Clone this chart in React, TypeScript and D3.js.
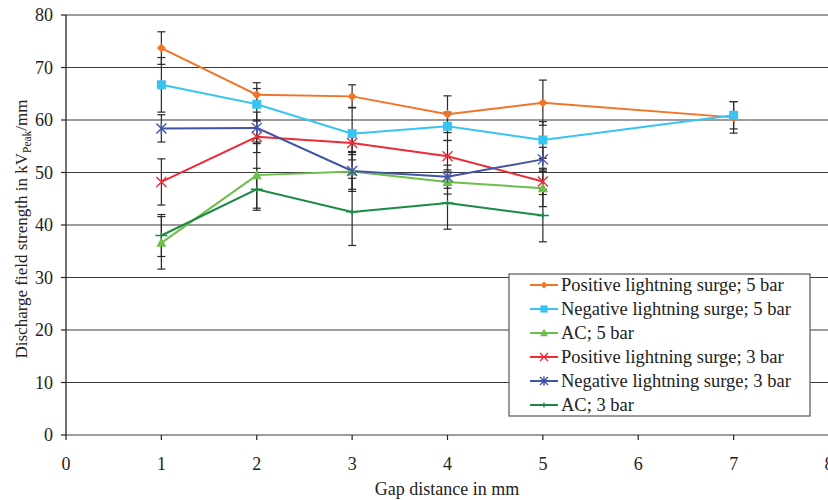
import React from "react";
import * as d3 from "d3";

const W = 828;
const H = 500;

const seriesNames = [
  "Positive lightning surge; 5 bar",
  "Negative lightning surge; 5 bar",
  "AC; 5 bar",
  "Positive lightning surge; 3 bar",
  "Negative lightning surge; 3 bar",
  "AC; 3 bar",
];
const seriesColors = ["#F37327", "#38C4F2", "#6CBF4B", "#EE2B34", "#4154A5", "#1B8A43"];
const seriesMarkers = ["diamond", "square", "triangle", "x", "star", "plus"];

const gapsLong = [1, 2, 3, 4, 5, 7];
const gapsShort = [1, 2, 3, 4, 5];

const posLS5 = [73.7, 64.8, 64.5, 61.1, 63.3, 60.5];
const posLS5Err = [3.1, 2.3, 2.2, 3.5, 4.3, 3.0];
const negLS5 = [66.7, 63.0, 57.4, 58.8, 56.2, 60.9];
const negLS5Err = [5.2, 3.0, 5.0, 2.7, 3.5, 2.6];
const ac5 = [36.6, 49.5, 50.2, 48.2, 47.0];
const ac5Err = [5.0, 6.3, 3.8, 2.3, 3.5];
const posLS3 = [48.2, 56.8, 55.6, 53.1, 48.3];
const posLS3Err = [4.4, 3.0, 2.2, 3.0, 2.5];
const negLS3 = [58.4, 58.5, 50.3, 49.2, 52.5];
const negLS3Err = [2.6, 3.0, 3.5, 2.2, 2.3];
const ac3 = [38.0, 46.8, 42.5, 44.2, 41.8];
const ac3Err = [4.0, 4.0, 6.4, 5.0, 5.0];

const seriesX = [gapsLong, gapsLong, gapsShort, gapsShort, gapsShort, gapsShort];
const seriesY = [posLS5, negLS5, ac5, posLS3, negLS3, ac3];
const seriesE = [posLS5Err, negLS5Err, ac5Err, posLS3Err, negLS3Err, ac3Err];

const xTicks = [0, 1, 2, 3, 4, 5, 6, 7, 8];
const yTicks = [0, 10, 20, 30, 40, 50, 60, 70, 80];

const FONT = "'Liberation Serif', 'Times New Roman', serif";

function Marker({ type, x, y, color, s = 1 }: { type: string; x: number; y: number; color: string; s?: number }) {
  switch (type) {
    case "diamond":
      return <path d={`M${x},${y - 4.5 * s}L${x + 4.5 * s},${y}L${x},${y + 4.5 * s}L${x - 4.5 * s},${y}Z`} fill={color} />;
    case "square":
      return <rect x={x - 4.5 * s} y={y - 4.5 * s} width={9 * s} height={9 * s} fill={color} />;
    case "triangle":
      return <path d={`M${x},${y - 5.5 * s}L${x + 5 * s},${y + 4 * s}L${x - 5 * s},${y + 4 * s}Z`} fill={color} />;
    case "x":
      return (
        <path
          d={`M${x - 5 * s},${y - 5 * s}L${x + 5 * s},${y + 5 * s}M${x - 5 * s},${y + 5 * s}L${x + 5 * s},${y - 5 * s}`}
          stroke={color}
          strokeWidth={1.4}
          fill="none"
        />
      );
    case "star":
      return (
        <path
          d={`M${x - 5 * s},${y - 5 * s}L${x + 5 * s},${y + 5 * s}M${x - 5 * s},${y + 5 * s}L${x + 5 * s},${y - 5 * s}M${x},${y - 6 * s}L${x},${y + 6 * s}`}
          stroke={color}
          strokeWidth={1.4}
          fill="none"
        />
      );
    case "plus":
      return (
        <path
          d={`M${x - 6 * s},${y}L${x + 6 * s},${y}M${x},${y - 3 * s}L${x},${y + 3 * s}`}
          stroke={color}
          strokeWidth={1.4}
          fill="none"
        />
      );
    default:
      return null;
  }
}

export default function App() {
  const x = d3.scaleLinear().domain([0, 8]).range([66, 829]);
  const y = d3.scaleLinear().domain([0, 80]).range([435, 15]);
  const line = d3
    .line<[number, number]>()
    .x((d) => x(d[0]))
    .y((d) => y(d[1]));

  const legendX = 509;
  const legendY = 274;
  const legendW = 301;
  const legendH = 142;
  const legendRow0 = 285;
  const legendStep = 24;

  return (
    <svg
      width={W}
      height={H}
      style={{ position: "absolute", left: 0, top: 0, background: "#fff" }}
      fontFamily={FONT}
    >
      <rect x={0} y={0} width={W} height={H} fill="#fff" />
      {/* gridlines */}
      {yTicks.map((t) => (
        <line key={"g" + t} x1={x(0)} x2={W} y1={y(t)} y2={y(t)} stroke="#3a3a3a" strokeWidth={1.2} />
      ))}
      {/* y axis */}
      <line x1={x(0)} x2={x(0)} y1={y(80)} y2={y(0)} stroke="#222" strokeWidth={1.3} />
      {yTicks.map((t) => (
        <g key={"yt" + t}>
          <line x1={x(0) - 5} x2={x(0)} y1={y(t)} y2={y(t)} stroke="#222" strokeWidth={1.2} />
          <text x={53} y={y(t)} dy="0.35em" textAnchor="end" fontSize={18} fill="#222">
            {t}
          </text>
        </g>
      ))}
      {/* x axis ticks */}
      {xTicks.map((t) => (
        <g key={"xt" + t}>
          <line x1={x(t)} x2={x(t)} y1={y(0)} y2={y(0) + 5} stroke="#222" strokeWidth={1.2} />
          <text x={x(t)} y={470} textAnchor="middle" fontSize={18} fill="#222">
            {t}
          </text>
        </g>
      ))}
      <text x={447} y={495} textAnchor="middle" fontSize={18} fill="#222">
        Gap distance in mm
      </text>
      <text transform={`translate(27,229) rotate(-90)`} textAnchor="middle" fontSize={17} fill="#222">
        Discharge field strength in kV
        <tspan fontSize={11.5} dy={4}>
          Peak
        </tspan>
        <tspan dy={-4}>/mm</tspan>
      </text>

      {/* error bars */}
      {seriesY.map((ys, si) =>
        ys.map((v, i) => {
          const xp = x(seriesX[si][i]);
          const e = seriesE[si][i];
          return (
            <g key={`e${si}-${i}`} stroke="#2a2a2a" strokeWidth={1.2}>
              <line x1={xp} x2={xp} y1={y(v + e)} y2={y(v - e)} />
              <line x1={xp - 4} x2={xp + 4} y1={y(v + e)} y2={y(v + e)} />
              <line x1={xp - 4} x2={xp + 4} y1={y(v - e)} y2={y(v - e)} />
            </g>
          );
        })
      )}

      {/* lines */}
      {seriesY.map((ys, si) => (
        <path
          key={"l" + si}
          d={line(ys.map((v, i) => [seriesX[si][i], v] as [number, number])) || ""}
          fill="none"
          stroke={seriesColors[si]}
          strokeWidth={2}
        />
      ))}
      {/* markers */}
      {seriesY.map((ys, si) =>
        ys.map((v, i) => (
          <Marker key={`m${si}-${i}`} type={seriesMarkers[si]} x={x(seriesX[si][i])} y={y(v)} color={seriesColors[si]} />
        ))
      )}

      {/* legend */}
      <rect x={legendX} y={legendY} width={legendW} height={legendH} fill="#fff" stroke="#555" strokeWidth={1.2} />
      {seriesNames.map((n, i) => {
        const cy = legendRow0 + i * legendStep;
        return (
          <g key={"lg" + i}>
            <line x1={530} x2={558} y1={cy} y2={cy} stroke={seriesColors[i]} strokeWidth={2} />
            <Marker type={seriesMarkers[i]} x={544} y={cy} color={seriesColors[i]} s={0.8} />
            <text x={561} y={cy} dy="0.35em" fontSize={18.5} fill="#222">
              {n}
            </text>
          </g>
        );
      })}
    </svg>
  );
}
